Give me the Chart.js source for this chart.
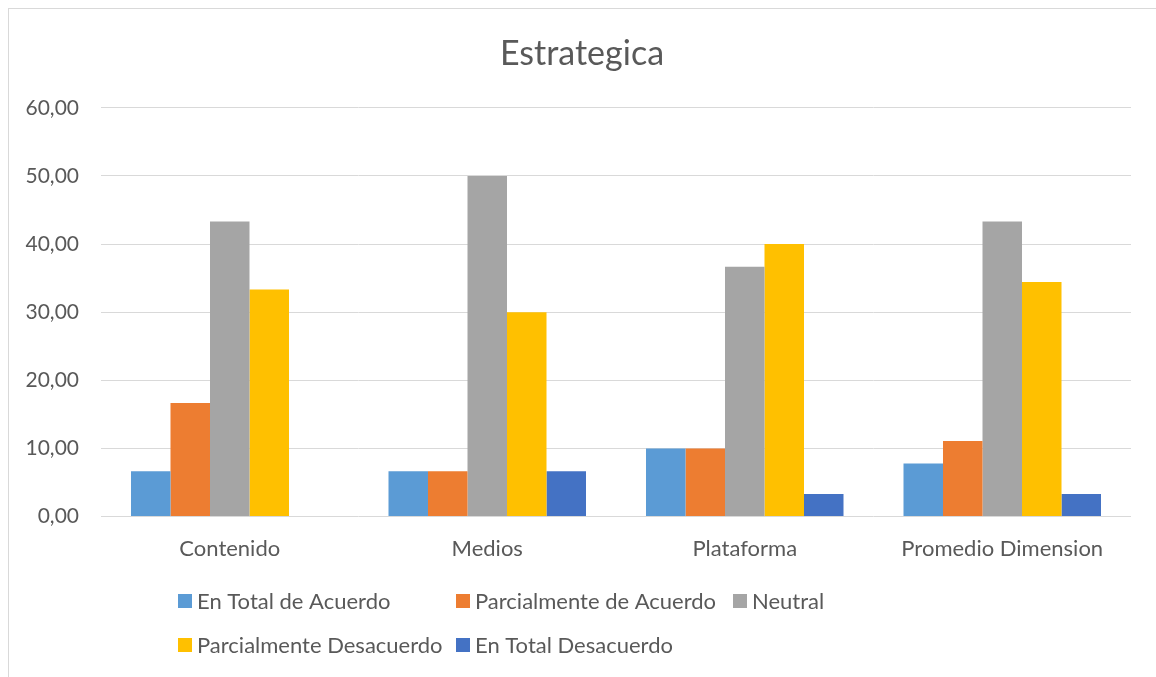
<!DOCTYPE html>
<html>
<head>
<meta charset="utf-8">
<script src="https://cdn.jsdelivr.net/npm/chart.js@4.4.1/dist/chart.umd.min.js"></script>
<style>
  html, body { margin: 0; padding: 0; background: #fff; overflow: hidden; }
  #frame { position: absolute; left: 8px; top: 8px; width: 1200px; height: 700px;
           border-left: 1px solid #d9d9d9; border-top: 1px solid #d9d9d9; }
  #wrap { position: absolute; left: 0; top: 0; width: 1156px; height: 677px; }
</style>
</head>
<body>
<div id="frame"></div>
<div id="wrap"><canvas id="chart"></canvas></div>
<script>
// Dimension results (%)
const categories = ['Contenido', 'Medios', 'Plataforma', 'Promedio Dimension'];
const seriesNames = ['En Total de Acuerdo', 'Parcialmente de Acuerdo', 'Neutral',
                     'Parcialmente Desacuerdo', 'En Total Desacuerdo'];
const totalAcuerdo = [6.67, 6.67, 10.00, 7.78];
const parcialAcuerdo = [16.67, 6.67, 10.00, 11.11];
const neutral = [43.33, 50.00, 36.67, 43.33];
const parcialDesacuerdo = [33.33, 30.00, 40.00, 34.44];
const totalDesacuerdo = [0.00, 6.67, 3.33, 3.33];
const yTicks = [0, 10, 20, 30, 40, 50, 60];

const colors = ['#5b9bd5', '#ed7d31', '#a5a5a5', '#ffc000', '#4472c4'];
const values = [totalAcuerdo, parcialAcuerdo, neutral, parcialDesacuerdo, totalDesacuerdo];
const fontFamily = 'Lato, "Open Sans", sans-serif';
const textColor = '#595959';

// center the title on the whole framed area, not just the padded box
const titleSpan = {
    id: 'titleSpan',
    afterLayout(chart) {
        chart.titleBlock.left = 8;
        chart.titleBlock.right = chart.width;
    }
};

// legend laid out in fixed columns, two rows
const gridLegend = {
    id: 'gridLegend',
    afterDraw(chart, args, opts) {
        const ctx = chart.ctx;
        ctx.save();
        ctx.font = opts.fontSize + 'px ' + fontFamily;
        ctx.textBaseline = 'middle';
        chart.data.datasets.forEach((ds, i) => {
            const slot = opts.slots[i];
            const x = opts.columns[slot[0]];
            const y = opts.rows[slot[1]];
            ctx.fillStyle = ds.backgroundColor;
            ctx.fillRect(x, y - opts.box / 2, opts.box, opts.box);
            ctx.fillStyle = textColor;
            ctx.fillText(ds.label, x + opts.box + 5, y + 1);
        });
        ctx.restore();
    }
};

new Chart(document.getElementById('chart'), {
    type: 'bar',
    data: {
        labels: categories,
        datasets: seriesNames.map((name, i) => ({
            label: name,
            data: values[i],
            backgroundColor: colors[i],
            borderWidth: 0,
            categoryPercentage: 0.767,
            barPercentage: 1
        }))
    },
    options: {
        responsive: true,
        maintainAspectRatio: false,
        animation: false,
        layout: { padding: { left: 0, right: 25, top: 0, bottom: 96 } },
        plugins: {
            legend: { display: false },
            tooltip: { enabled: false },
            title: {
                display: true,
                text: 'Estrategica',
                color: textColor,
                font: { family: fontFamily, size: 34, weight: 'normal' },
                padding: { top: 34, bottom: 33 }
            },
            gridLegend: {
                fontSize: 22,
                box: 14,
                columns: [178, 456, 733],
                rows: [601, 645],
                slots: [[0, 0], [1, 0], [2, 0], [0, 1], [1, 1]]
            }
        },
        scales: {
            x: {
                grid: { display: false, drawTicks: false },
                border: { display: false },
                ticks: {
                    color: textColor,
                    padding: 19,
                    font: { family: fontFamily, size: 22 }
                }
            },
            y: {
                min: 0,
                max: 60,
                afterBuildTicks(scale) {
                    scale.ticks = yTicks.map(v => ({ value: v }));
                },
                afterFit(scale) { scale.width = 101; },
                grid: { color: '#d9d9d9', lineWidth: 1, drawTicks: false },
                border: { display: false },
                ticks: {
                    color: textColor,
                    padding: 22,
                    font: { family: fontFamily, size: 21 },
                    callback: v => v.toFixed(2).replace('.', ',')
                }
            }
        }
    },
    plugins: [titleSpan, gridLegend]
});
</script>
</body>
</html>
